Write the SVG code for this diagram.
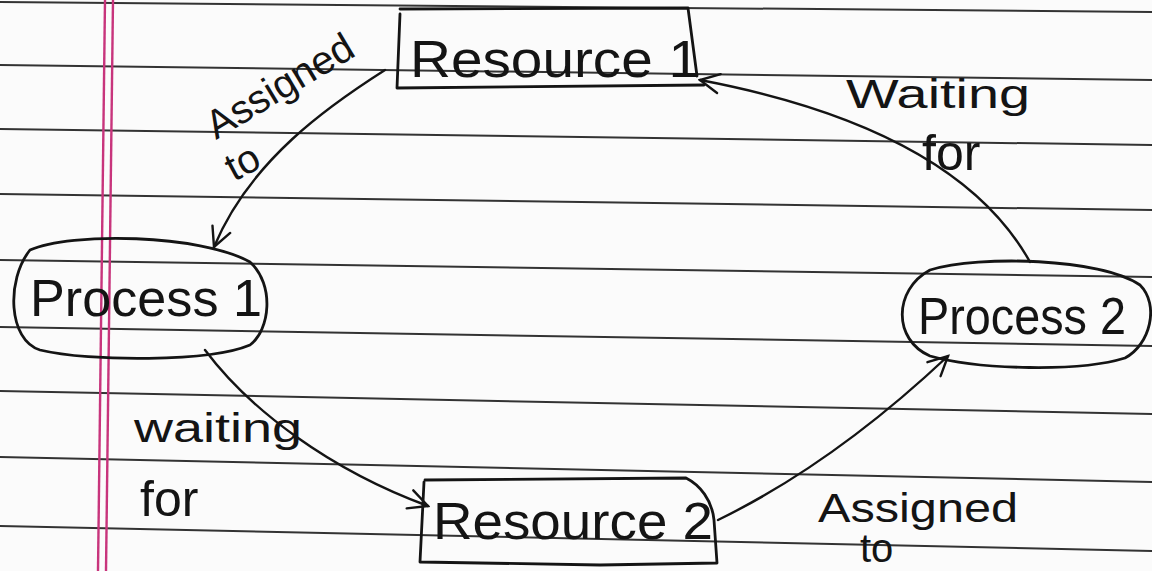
<svg xmlns="http://www.w3.org/2000/svg" width="1152" height="571" viewBox="0 0 1152 571">
<defs>
<style>
.rule{stroke:#333333;stroke-width:2;fill:none}
.margin{stroke:#c8347c;stroke-width:2.4;fill:none}
.shape{fill:none;stroke:#141414;stroke-width:2.8;stroke-linejoin:round;stroke-linecap:round}
.edge{fill:none;stroke:#141414;stroke-width:2.4;stroke-linecap:round}
.node{font-family:"Liberation Sans","DejaVu Sans",sans-serif;fill:#141414;font-size:52px}
.lbl{font-family:"Liberation Sans","DejaVu Sans",sans-serif;fill:#141414;font-size:40px}
.big{font-size:50px}
.small{font-size:40px}
</style>
<marker id="arr" viewBox="0 0 20 20" refX="18" refY="10" markerWidth="24" markerHeight="24" markerUnits="userSpaceOnUse" orient="auto">
<path d="M2 2 L18 10 L2 18" fill="none" stroke="#141414" stroke-width="2" stroke-linecap="round"/>
</marker>
</defs>
<rect x="0" y="0" width="1152" height="571" fill="#fbfbfb"/>
<g id="paper">
<line class="rule" x1="0" y1="2" x2="1152" y2="12"/>
<line class="rule" x1="0" y1="65" x2="1152" y2="80"/>
<line class="rule" x1="0" y1="129" x2="1152" y2="145"/>
<line class="rule" x1="0" y1="194" x2="1152" y2="210"/>
<line class="rule" x1="0" y1="260" x2="1152" y2="277"/>
<line class="rule" x1="0" y1="327" x2="1152" y2="346"/>
<line class="rule" x1="0" y1="391" x2="1152" y2="414"/>
<line class="rule" x1="0" y1="457" x2="1152" y2="482"/>
<line class="rule" x1="0" y1="526" x2="1152" y2="551"/>
<line class="margin" x1="105" y1="0" x2="98" y2="571"/>
<line class="margin" x1="113" y1="0" x2="106" y2="571"/>
</g>
<g id="connectors">
<path class="edge" d="M385 70 C330 105 250 160 214 247" marker-end="url(#arr)"/>
<path class="edge" d="M205 350 C250 410 330 470 428 506" marker-end="url(#arr)"/>
<path class="edge" d="M718 520 C800 480 880 420 948 356" marker-end="url(#arr)"/>
<path class="edge" d="M1030 262 C990 190 900 118 700 80" marker-end="url(#arr)"/>
</g>
<g id="labels">
<text class="lbl" transform="translate(216,140) rotate(-31)" textLength="165" lengthAdjust="spacingAndGlyphs">Assigned</text>
<text class="lbl small" transform="translate(234,182) rotate(-28)">to</text>
<text class="lbl" x="846" y="108" textLength="184" lengthAdjust="spacingAndGlyphs">Waiting</text>
<text class="lbl big" x="922" y="170">for</text>
<text class="lbl" x="134" y="442" textLength="168" lengthAdjust="spacingAndGlyphs">waiting</text>
<text class="lbl big" x="140" y="516">for</text>
<text class="lbl" x="818" y="522" textLength="200" lengthAdjust="spacingAndGlyphs">Assigned</text>
<text class="lbl small" x="860" y="562">to</text>
</g>
<g id="resource1">
<path class="shape" d="M400 14 L397 88 L704 85 M400 9 L688 8 L697 76"/>
<text class="node" x="410" y="77" textLength="290" lengthAdjust="spacingAndGlyphs">Resource 1</text>
</g>
<g id="process1">
<path class="shape" d="M30 250 C70 232 200 234 250 262 C275 285 270 330 250 345 C210 362 90 362 40 350 C8 340 6 280 30 250 Z"/>
<text class="node" x="30" y="316" textLength="232" lengthAdjust="spacingAndGlyphs">Process 1</text>
</g>
<g id="process2">
<path class="shape" d="M930 270 C980 255 1100 258 1140 285 C1160 305 1150 345 1125 358 C1080 372 980 370 930 356 C893 340 893 290 930 270 Z"/>
<text class="node" x="918" y="334" textLength="208" lengthAdjust="spacingAndGlyphs">Process 2</text>
</g>
<g id="resource2">
<path class="shape" d="M424 482 L420 562 L600 565 L717 563 L714 520 C712 500 700 485 686 478 L425 480"/>
<text class="node" x="433" y="539" textLength="280" lengthAdjust="spacingAndGlyphs">Resource 2</text>
</g>
</svg>
